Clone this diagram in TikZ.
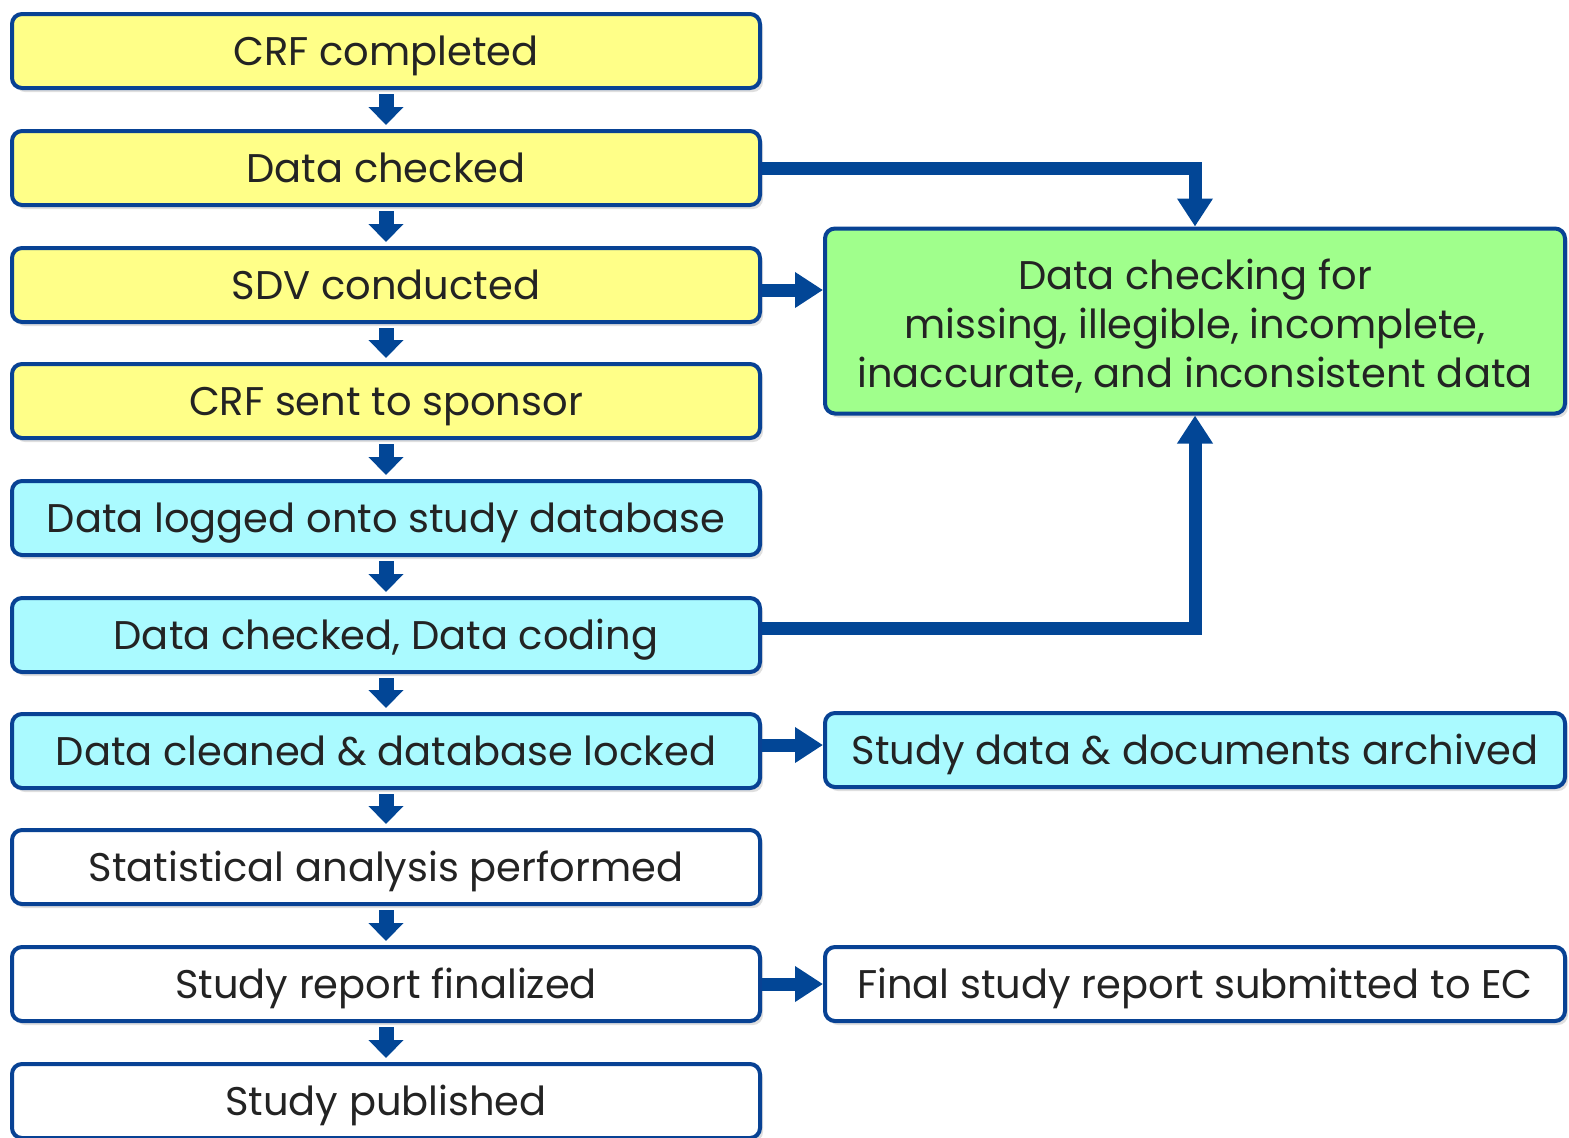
\documentclass[tikz,border=0pt]{standalone}
\usepackage{fontspec}
\setmainfont{Poppins}
\usetikzlibrary{arrows.meta, positioning, shadows}

\definecolor{edgeblue}{RGB}{8,66,148}
\definecolor{flowblue}{RGB}{2,70,150}
\definecolor{crfyellow}{RGB}{255,255,136}
\definecolor{dbcyan}{RGB}{170,250,255}
\definecolor{checkgreen}{RGB}{160,255,140}
\definecolor{inkgray}{RGB}{35,35,35}

\begin{document}
\begin{tikzpicture}
    %defining some styles
    [
        x=0.5pt, y=-0.5pt,
        stepbox/.style={rectangle, rounded corners=5pt, draw=edgeblue, line width=2pt,
            minimum width=374pt, minimum height=37pt, inner sep=0pt, text=inkgray,
            text height=14pt, text depth=0pt,
            font=\fontsize{20}{24.5}\selectfont,
            drop shadow={shadow xshift=1.5pt, shadow yshift=-2pt, opacity=0.25}},
        crfbox/.style={stepbox, fill=crfyellow},
        dbbox/.style={stepbox, fill=dbcyan},
        plainbox/.style={stepbox, fill=white},
        sidebox/.style={stepbox, minimum width=370pt},
        downflow/.style={draw=flowblue, line width=7.5pt, -{Triangle[width=17pt, length=9pt]}},
        flow/.style={draw=flowblue, line width=6.5pt, -{Triangle[width=17pt, length=14pt]}},
    ]
    \useasboundingbox (0,0) rectangle (1569,1137);

    % main column
    \node (crf)     at (386,  51) [crfbox] {CRF completed};
    \node (checked) at (386, 168) [crfbox] {Data checked};
    \node (sdv)     at (386, 285) [crfbox] {SDV conducted};
    \node (sent)    at (386, 401) [crfbox] {CRF sent to sponsor};
    \node (logged)  at (386, 518) [dbbox] {Data logged onto study database};
    \node (coding)  at (386, 635) [dbbox] {Data checked, Data coding};
    \node (locked)  at (386, 751) [dbbox] {Data cleaned \& database locked};
    \node (stats)   at (386, 867) [plainbox] {Statistical analysis performed};
    \node (report)  at (386, 984) [plainbox] {Study report finalized};
    \node (publish) at (386,1101) [plainbox] {Study published};

    % side column
    \node (quality) at (1195, 321) [sidebox, fill=checkgreen, minimum height=0pt,
        text height=79.5pt, text depth=13pt, align=center]
        {Data checking for\\missing, illegible, incomplete,\\inaccurate, and inconsistent data};
    \node (archive) at (1195, 750) [sidebox, fill=dbcyan] {Study data \& documents archived};
    \node (submit)  at (1195, 984) [sidebox, fill=white] {Final study report submitted to EC};

    % downward steps
    \foreach \a/\b in {crf/checked, checked/sdv, sdv/sent, sent/logged, logged/coding,
        coding/locked, locked/stats, stats/report, report/publish}
        \draw[downflow] ([yshift=-2pt]\a.south) -- ([yshift=2pt]\b.north);

    % side links
    \draw[flow] (checked.east) -| (quality.north);
    \draw[flow] ([yshift=-2.5pt]sdv.east) -- ([yshift=-2.5pt]sdv.east -| quality.west);
    \draw[flow] ([yshift=3.5pt]coding.east) -| (quality.south);
    \draw[flow] ([yshift=3pt]locked.east) -- ([yshift=3pt]locked.east -| archive.west);
    \draw[flow] (report.east) -- (submit.west);
\end{tikzpicture}
\end{document}
